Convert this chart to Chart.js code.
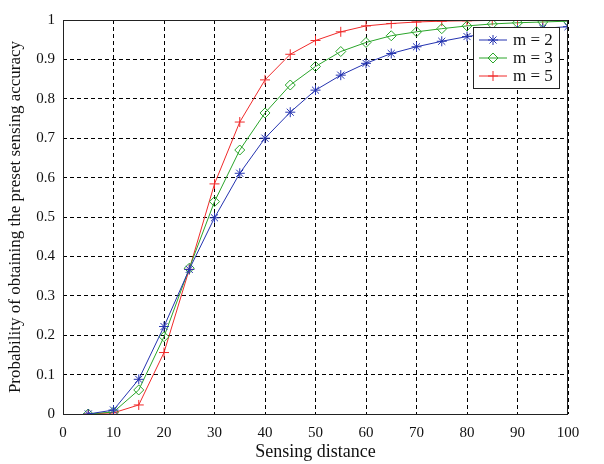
<!DOCTYPE html>
<html lang="en">
<head>
    <meta charset="UTF-8">
    <title>Sensing accuracy chart</title>
    <script src="https://cdn.jsdelivr.net/npm/chart.js"></script>
    <style>
        body { margin: 0; background: #fff; }
        .chart-container { position: relative; width: 604px; height: 464px; }
    </style>
</head>
<body>
    <div class="chart-container">
        <canvas id="accuracyChart" width="604" height="464"></canvas>
    </div>

    <script>
        // Data
        const distance = [5, 10, 15, 20, 25, 30, 35, 40, 45, 50, 55, 60, 65, 70, 75, 80, 85, 90, 95, 100];
        const m2 = [0, 0.01, 0.088, 0.222, 0.367, 0.498, 0.611, 0.70, 0.766, 0.822, 0.86, 0.89, 0.915, 0.932, 0.946, 0.958, 0.967, 0.974, 0.979, 0.983];
        const m3 = [0, 0.005, 0.061, 0.196, 0.37, 0.539, 0.67, 0.764, 0.835, 0.882, 0.92, 0.943, 0.96, 0.97, 0.978, 0.985, 0.99, 0.993, 0.995, 0.997];
        const m5 = [0, 0.003, 0.023, 0.156, 0.367, 0.584, 0.741, 0.848, 0.913, 0.948, 0.97, 0.985, 0.991, 0.995, 0.997, 0.998, 0.999, 1, 1, 1];
        const seriesLabels = ['m = 2', 'm = 3', 'm = 5'];
        const xTicks = [0, 10, 20, 30, 40, 50, 60, 70, 80, 90, 100];

        const FONT = "'Liberation Serif', 'DejaVu Serif', serif";

        function toPoints(ys) {
            return distance.map((x, i) => ({ x: x, y: ys[i] }));
        }

        function series(label, ys, color, style) {
            return {
                label: label,
                data: toPoints(ys),
                borderColor: color,
                borderWidth: 1,
                pointStyle: style,
                pointRadius: 5,
                pointBorderColor: color,
                pointBackgroundColor: 'rgba(0,0,0,0)',
                pointBorderWidth: 1,
                tension: 0
            };
        }

        // box round the plot and the legend inside it
        const boxAndLegend = {
            id: 'boxAndLegend',
            afterDatasetsDraw(chart) {
                const ctx = chart.ctx;
                const a = chart.chartArea;
                ctx.save();
                ctx.strokeStyle = '#222';
                ctx.lineWidth = 1;
                ctx.strokeRect(a.left + 0.5, a.top + 0.5, a.right - a.left - 1, a.bottom - a.top);

                const lx = 473, ly = 27, lw = 86, lh = 61;
                ctx.fillStyle = '#fff';
                ctx.fillRect(lx, ly, lw, lh);
                ctx.strokeRect(lx + 0.5, ly + 0.5, lw, lh);

                ctx.font = '17px ' + FONT;
                ctx.textBaseline = 'middle';
                chart.data.datasets.forEach((ds, i) => {
                    const y = ly + 13 + i * 18;
                    ctx.strokeStyle = ds.borderColor;
                    ctx.fillStyle = 'rgba(0,0,0,0)';
                    ctx.beginPath();
                    ctx.moveTo(lx + 6, y);
                    ctx.lineTo(lx + 34, y);
                    ctx.stroke();
                    Chart.helpers.drawPoint(ctx, {
                        pointStyle: ds.pointStyle,
                        radius: 5,
                        rotation: 0,
                        borderWidth: 1
                    }, lx + 20, y);
                    ctx.fillStyle = '#111';
                    ctx.fillText(ds.label, lx + 40, y + 1);
                });
                ctx.restore();
            }
        };

        new Chart(document.getElementById('accuracyChart'), {
            type: 'line',
            data: {
                datasets: [
                    series(seriesLabels[0], m2, '#2433b0', 'star'),
                    series(seriesLabels[1], m3, '#2aa52a', 'rectRot'),
                    series(seriesLabels[2], m5, '#f02a2a', 'cross')
                ]
            },
            options: {
                responsive: false,
                animation: false,
                layout: { padding: { left: 0, top: 20, right: 36, bottom: 0 } },
                plugins: {
                    legend: { display: false },
                    tooltip: { enabled: false }
                },
                scales: {
                    x: {
                        type: 'linear',
                        min: 0,
                        max: 100,
                        afterBuildTicks: (scale) => { scale.ticks = xTicks.map(v => ({ value: v })); },
                        afterFit: (scale) => { scale.height = 50; },
                        grid: { color: '#000', lineWidth: 1, drawTicks: false },
                        border: { display: false, dash: [4, 3] },
                        ticks: { color: '#111', padding: 10, font: { family: FONT, size: 15 } },
                        title: {
                            display: true,
                            text: 'Sensing distance',
                            color: '#111',
                            padding: { top: 0, bottom: 1 },
                            font: { family: FONT, size: 18 }
                        }
                    },
                    y: {
                        min: 0,
                        max: 1,
                        ticks: {
                            stepSize: 0.1,
                            color: '#111',
                            padding: 8,
                            font: { family: FONT, size: 15 },
                            callback: (v) => String(+v.toFixed(1))
                        },
                        afterFit: (scale) => { scale.width = 63; },
                        grid: { color: '#000', lineWidth: 1, drawTicks: false },
                        border: { display: false, dash: [4, 3] },
                        title: {
                            display: true,
                            text: 'Probability of obtaining the preset sensing accuracy',
                            color: '#111',
                            padding: { top: 5, bottom: 0 },
                            font: { family: FONT, size: 17 }
                        }
                    }
                }
            },
            plugins: [boxAndLegend]
        });
    </script>
</body>
</html>
